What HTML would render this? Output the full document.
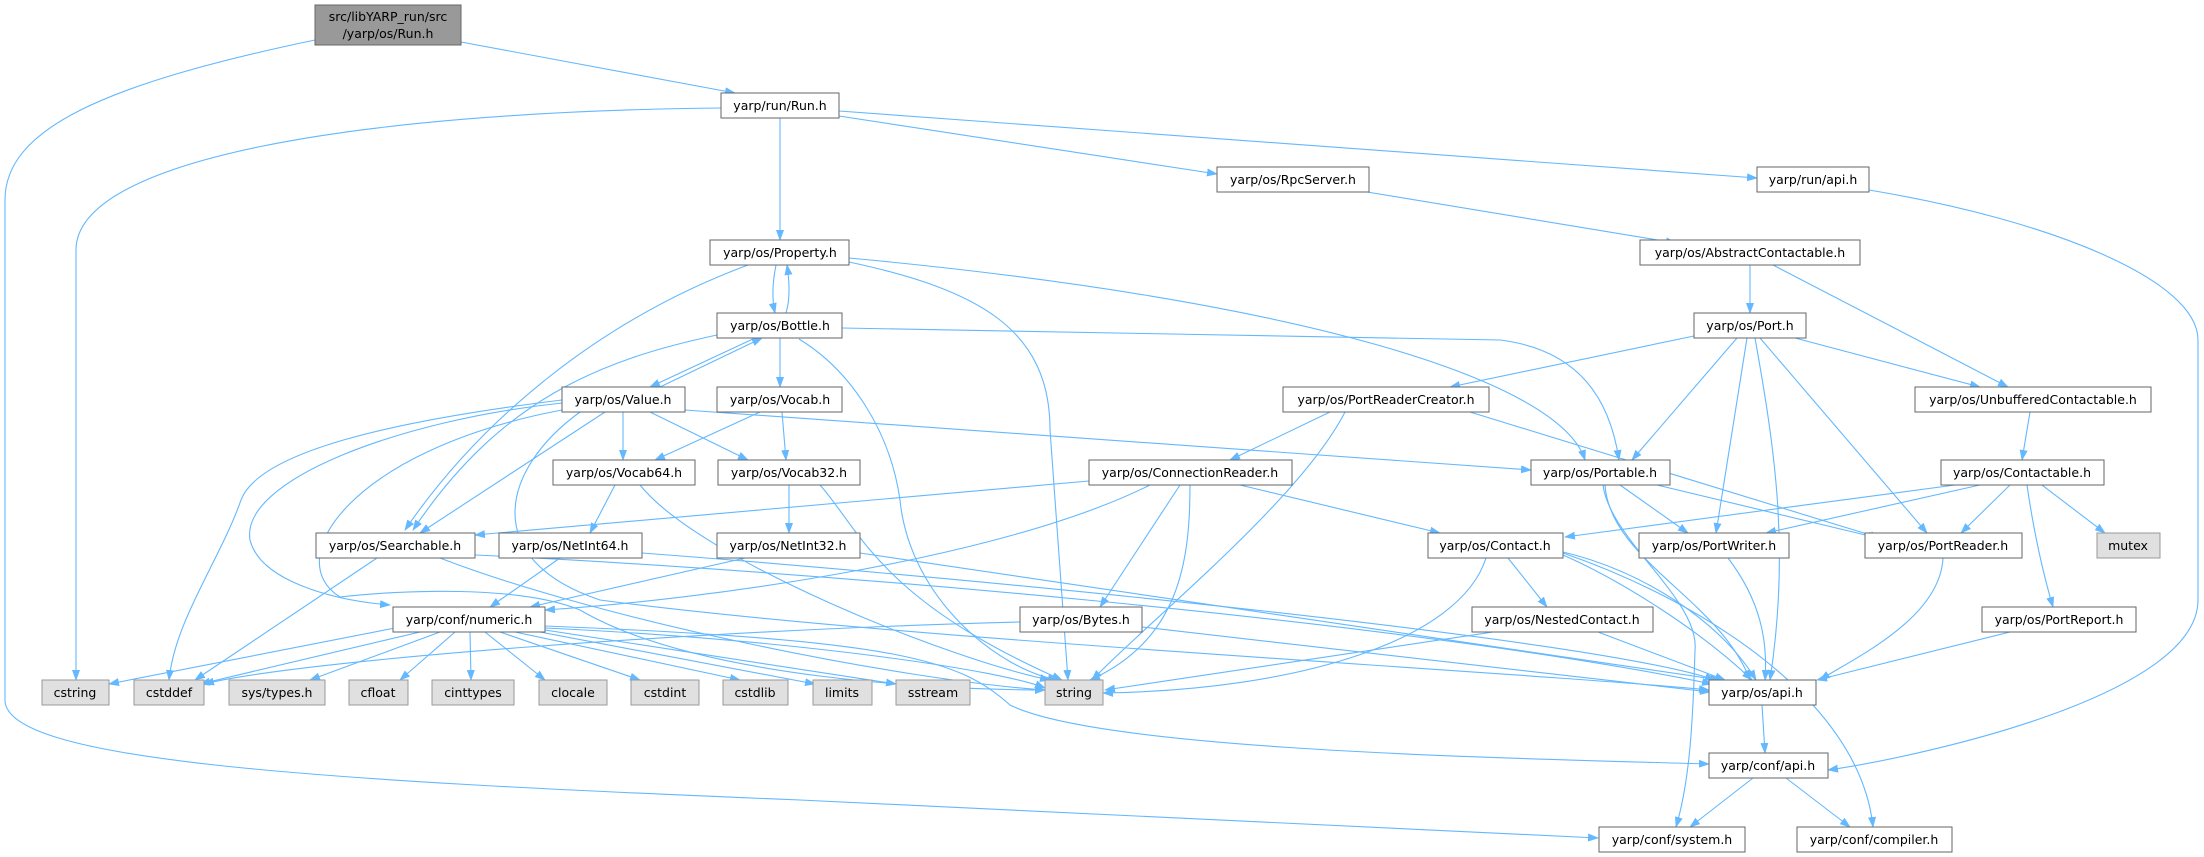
<!DOCTYPE html>
<html><head><meta charset="utf-8"><style>
html,body{margin:0;padding:0;background:#fff}
svg{display:block}
text{font-family:"DejaVu Sans","Liberation Sans",sans-serif;font-size:12.5px;fill:#000;text-anchor:middle}
.n{fill:#fff;stroke:#666;stroke-width:1}
.s{fill:#e0e0e0;stroke:#999;stroke-width:1}
.r{fill:#999;stroke:#666;stroke-width:1}
path{fill:none;stroke:#63b8ff;stroke-width:1.1}
</style></head><body>
<svg width="2204" height="857" viewBox="0 0 2204 857" xmlns="http://www.w3.org/2000/svg">
<defs><marker id="a" markerWidth="11" markerHeight="8" refX="10" refY="4" orient="auto" markerUnits="userSpaceOnUse"><polygon points="0,0 11,4 0,8" fill="#63b8ff"/></marker></defs>
<g marker-end="url(#a)">
<path d="M461,42 L735,93"/>
<path d="M315,40 C100,85 5,130 5,200 L5,700 C5,760 300,780 800,800 L1598,838"/>
<path d="M721,108 C350,112 76,160 76,250 L76,680"/>
<path d="M780,118 L780,240"/>
<path d="M839,116 L1217,174"/>
<path d="M839,111 L1757,178"/>
<path d="M1869,190 C2050,220 2198,280 2198,340 L2198,600 C2198,700 1900,760 1828,770"/>
<path d="M1367,192 L1676,243"/>
<path d="M1750,265 L1750,313"/>
<path d="M1773,265 L2008,387"/>
<path d="M1694,336 L1450,387"/>
<path d="M1737,338 L1632,460"/>
<path d="M1747,338 L1716,533"/>
<path d="M1755,338 C1775,450 1790,550 1770,680"/>
<path d="M1760,338 L1927,533"/>
<path d="M1795,338 L1980,387"/>
<path d="M2030,412 L2022,460"/>
<path d="M1955,485 L1565,537"/>
<path d="M1980,485 L1766,533"/>
<path d="M2010,485 L1961,533"/>
<path d="M2042,485 L2105,533"/>
<path d="M2027,485 C2035,540 2045,580 2053,607"/>
<path d="M2010,632 L1817,680"/>
<path d="M1943,558 C1940,620 1850,660 1820,680"/>
<path d="M1728,558 C1760,600 1768,640 1765,680"/>
<path d="M1620,485 L1688,533"/>
<path d="M1657,485 L1878,538"/>
<path d="M1605,485 C1610,560 1720,600 1750,680"/>
<path d="M1603,485 C1610,540 1700,600 1695,650 C1693,720 1690,780 1676,827"/>
<path d="M1563,553 C1700,600 1860,700 1873,827"/>
<path d="M1563,552 C1640,570 1720,620 1756,680"/>
<path d="M1563,555 C1620,580 1700,630 1752,680"/>
<path d="M1508,558 L1547,607"/>
<path d="M1486,558 C1460,640 1300,690 1103,693"/>
<path d="M1493,632 L1105,690"/>
<path d="M1598,632 L1725,680"/>
<path d="M1240,485 L1440,533"/>
<path d="M1180,485 L1100,607"/>
<path d="M1190,485 C1190,560 1180,640 1090,680"/>
<path d="M1089,481 L475,535"/>
<path d="M1150,485 C1000,560 700,600 545,610"/>
<path d="M1330,412 L1230,460"/>
<path d="M1345,412 C1300,500 1150,620 1092,680"/>
<path d="M1470,412 L1880,538"/>
<path d="M776,265 C772,285 772,300 775,313"/>
<path d="M786,313 C790,300 790,285 787,265"/>
<path d="M748,265 C600,320 480,420 405,530"/>
<path d="M849,262 C980,290 1050,330 1050,430 L1068,680"/>
<path d="M849,258 C1300,300 1560,380 1585,460"/>
<path d="M842,328 L1500,340 C1580,350 1610,400 1619,460"/>
<path d="M755,338 L650,387"/>
<path d="M660,387 L762,338"/>
<path d="M780,338 L780,387"/>
<path d="M799,339 C850,370 890,430 900,500 C910,600 1000,670 1058,680"/>
<path d="M717,335 C600,360 500,400 413,530"/>
<path d="M623,412 L623,460"/>
<path d="M650,412 L748,460"/>
<path d="M760,412 L655,460"/>
<path d="M782,412 L786,460"/>
<path d="M605,412 L420,533"/>
<path d="M685,410 L1531,470"/>
<path d="M562,400 C400,420 260,450 241,500 C220,560 175,620 169,680"/>
<path d="M562,403 C400,420 240,480 250,540 C260,580 330,600 390,605"/>
<path d="M562,410 C350,450 280,560 340,597 C400,590 520,585 580,610 C700,680 950,690 1045,690"/>
<path d="M580,412 C500,470 480,560 600,600 C900,640 1500,670 1709,690"/>
<path d="M615,485 L590,533"/>
<path d="M640,485 C700,560 950,660 1050,680"/>
<path d="M789,485 L789,533"/>
<path d="M820,485 C860,530 880,600 1062,680"/>
<path d="M560,558 L490,607"/>
<path d="M642,553 C1000,580 1600,640 1715,680"/>
<path d="M745,558 L530,607"/>
<path d="M860,553 L1720,680"/>
<path d="M377,558 L195,680"/>
<path d="M440,558 C600,620 900,680 1045,690"/>
<path d="M475,555 C800,570 1400,620 1712,684"/>
<path d="M1020,622 C700,630 300,660 204,684"/>
<path d="M1142,627 L1710,692"/>
<path d="M395,628 L109,684"/>
<path d="M420,632 L200,684"/>
<path d="M440,632 L310,680"/>
<path d="M455,632 L400,680"/>
<path d="M470,632 L471,680"/>
<path d="M485,632 L545,680"/>
<path d="M500,632 L640,680"/>
<path d="M515,632 L740,680"/>
<path d="M540,632 L815,684"/>
<path d="M545,630 L896,684"/>
<path d="M545,628 C800,640 1000,670 1045,688"/>
<path d="M545,626 C900,640 960,660 1010,705 C1100,750 1500,758 1709,764"/>
<path d="M1762,705 L1765,753"/>
<path d="M1753,778 L1690,827"/>
<path d="M1786,778 L1850,827"/>
</g>
<rect class="r" x="315" y="5" width="146" height="40"/><text x="388" y="21">src/libYARP_run/src</text><text x="388" y="38">/yarp/os/Run.h</text>
<g>
<rect class="n" x="721" y="93" width="118" height="25"/><text x="780" y="110">yarp/run/Run.h</text>
<rect class="n" x="1217" y="167" width="152" height="25"/><text x="1293" y="184">yarp/os/RpcServer.h</text>
<rect class="n" x="1757" y="167" width="112" height="25"/><text x="1813" y="184">yarp/run/api.h</text>
<rect class="n" x="710" y="240" width="139" height="25"/><text x="780" y="257">yarp/os/Property.h</text>
<rect class="n" x="1640" y="240" width="220" height="25"/><text x="1750" y="257">yarp/os/AbstractContactable.h</text>
<rect class="n" x="717" y="313" width="125" height="25"/><text x="780" y="330">yarp/os/Bottle.h</text>
<rect class="n" x="1694" y="313" width="112" height="25"/><text x="1750" y="330">yarp/os/Port.h</text>
<rect class="n" x="562" y="387" width="123" height="25"/><text x="623" y="404">yarp/os/Value.h</text>
<rect class="n" x="717" y="387" width="125" height="25"/><text x="780" y="404">yarp/os/Vocab.h</text>
<rect class="n" x="1283" y="387" width="206" height="25"/><text x="1386" y="404">yarp/os/PortReaderCreator.h</text>
<rect class="n" x="1915" y="387" width="236" height="25"/><text x="2033" y="404">yarp/os/UnbufferedContactable.h</text>
<rect class="n" x="553" y="460" width="142" height="25"/><text x="624" y="477">yarp/os/Vocab64.h</text>
<rect class="n" x="718" y="460" width="142" height="25"/><text x="789" y="477">yarp/os/Vocab32.h</text>
<rect class="n" x="1089" y="460" width="203" height="25"/><text x="1190" y="477">yarp/os/ConnectionReader.h</text>
<rect class="n" x="1531" y="460" width="139" height="25"/><text x="1600" y="477">yarp/os/Portable.h</text>
<rect class="n" x="1941" y="460" width="163" height="25"/><text x="2022" y="477">yarp/os/Contactable.h</text>
<rect class="n" x="316" y="533" width="159" height="25"/><text x="395" y="550">yarp/os/Searchable.h</text>
<rect class="n" x="499" y="533" width="143" height="25"/><text x="570" y="550">yarp/os/NetInt64.h</text>
<rect class="n" x="717" y="533" width="143" height="25"/><text x="788" y="550">yarp/os/NetInt32.h</text>
<rect class="n" x="1428" y="533" width="135" height="25"/><text x="1495" y="550">yarp/os/Contact.h</text>
<rect class="n" x="1639" y="533" width="150" height="25"/><text x="1714" y="550">yarp/os/PortWriter.h</text>
<rect class="n" x="1865" y="533" width="157" height="25"/><text x="1943" y="550">yarp/os/PortReader.h</text>
<rect class="n" x="393" y="607" width="152" height="25"/><text x="469" y="624">yarp/conf/numeric.h</text>
<rect class="n" x="1020" y="607" width="122" height="25"/><text x="1081" y="624">yarp/os/Bytes.h</text>
<rect class="n" x="1472" y="607" width="181" height="25"/><text x="1562" y="624">yarp/os/NestedContact.h</text>
<rect class="n" x="1982" y="607" width="154" height="25"/><text x="2059" y="624">yarp/os/PortReport.h</text>
<rect class="n" x="1709" y="680" width="107" height="25"/><text x="1762" y="697">yarp/os/api.h</text>
<rect class="n" x="1709" y="753" width="119" height="25"/><text x="1768" y="770">yarp/conf/api.h</text>
<rect class="n" x="1599" y="827" width="146" height="25"/><text x="1672" y="844">yarp/conf/system.h</text>
<rect class="n" x="1797" y="827" width="155" height="25"/><text x="1874" y="844">yarp/conf/compiler.h</text>
</g>
<g>
<rect class="s" x="2097" y="533" width="63" height="25"/><text x="2128" y="550">mutex</text>
<rect class="s" x="42" y="680" width="67" height="25"/><text x="75" y="697">cstring</text>
<rect class="s" x="134" y="680" width="70" height="25"/><text x="169" y="697">cstddef</text>
<rect class="s" x="229" y="680" width="96" height="25"/><text x="277" y="697">sys/types.h</text>
<rect class="s" x="349" y="680" width="59" height="25"/><text x="378" y="697">cfloat</text>
<rect class="s" x="432" y="680" width="82" height="25"/><text x="473" y="697">cinttypes</text>
<rect class="s" x="539" y="680" width="68" height="25"/><text x="573" y="697">clocale</text>
<rect class="s" x="631" y="680" width="68" height="25"/><text x="665" y="697">cstdint</text>
<rect class="s" x="723" y="680" width="65" height="25"/><text x="755" y="697">cstdlib</text>
<rect class="s" x="813" y="680" width="59" height="25"/><text x="842" y="697">limits</text>
<rect class="s" x="896" y="680" width="74" height="25"/><text x="933" y="697">sstream</text>
<rect class="s" x="1045" y="680" width="58" height="25"/><text x="1074" y="697">string</text>
</g>
</svg>
</body></html>
